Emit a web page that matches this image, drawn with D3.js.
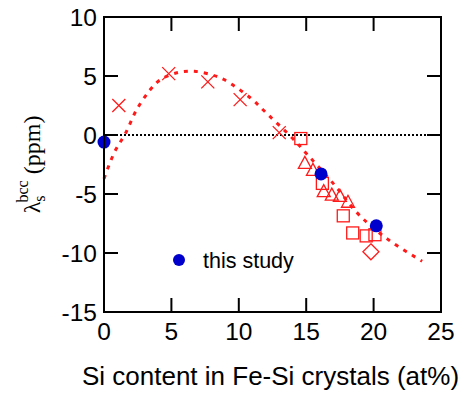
<!DOCTYPE html>
<html>
<head>
<meta charset="utf-8">
<script src="https://cdn.jsdelivr.net/npm/d3@7"></script>
<style>
  body { margin: 0; background: #fff; }
  svg { display: block; }
</style>
</head>
<body>
<div id="chart"></div>
<script>
// fitted curve
const fitCurve = [[0,-3.7],[0.8,-1.4],[1.6,0.15],[2.4,2.1],[3.4,3.8],[4.2,4.7],[5.5,5.3],[6.7,5.4],
  [8.0,5.1],[8.9,4.7],[10.8,3.2],[12.1,1.8],[14.0,-0.3],[15.2,-1.8],[17.0,-4.1],[18.7,-6.5],
  [20.0,-7.9],[21.5,-9.2],[23.6,-10.7]];
const crosses = [[1.1,2.5],[4.8,5.2],[7.7,4.5],[10.1,3.0],[13.0,0.2]];
const squares = [[14.6,-0.3],[16.2,-4.1],[17.75,-6.85],[18.45,-8.3],[19.45,-8.55],[20.1,-8.45]];
const triangles = [[14.9,-2.4],[15.5,-3.0],[16.3,-4.8],[16.9,-5.1],[17.5,-5.2],[18.1,-5.7]];
const diamonds = [[19.8,-9.9]];
const thisStudy = [[0,-0.6],[16.1,-3.3],[20.2,-7.7]];
const xTicks = [0,5,10,15,20,25];
const yTicks = [-15,-10,-5,0,5,10];

const W = 471, H = 395;
const m = {left: 104, right: 30, top: 17, bottom: 83};
const svg = d3.select("#chart").append("svg").attr("width", W).attr("height", H);
const x = d3.scaleLinear().domain([0,25]).range([m.left, W - m.right]);
const y = d3.scaleLinear().domain([-15,10]).range([H - m.bottom, m.top]);
const red = "#ff1a1a", blue = "#0000cc";
const font = "Liberation Sans, Arial, sans-serif";

// zero line
svg.append("line").attr("x1", x(0)).attr("x2", x(25)).attr("y1", y(0)).attr("y2", y(0))
  .attr("stroke", "#000").attr("stroke-width", 2).attr("stroke-dasharray", "2,2");

// dashed fit
const line = d3.line().x(d => x(d[0])).y(d => y(d[1])).curve(d3.curveCatmullRom);
svg.append("path").datum(fitCurve).attr("d", line).attr("fill", "none")
  .attr("stroke", red).attr("stroke-width", 3).attr("stroke-dasharray", "4,6");

// crosses
svg.selectAll(".cross").data(crosses).join("path").attr("class", "cross")
  .attr("transform", d => `translate(${x(d[0])},${y(d[1])})`)
  .attr("d", "M-6.5,-6.5L6.5,6.5M-6.5,6.5L6.5,-6.5")
  .attr("stroke", red).attr("stroke-width", 1.3).attr("fill", "none");

svg.selectAll(".sq").data(squares).join("rect").attr("class", "sq")
  .attr("x", d => x(d[0]) - 6).attr("y", d => y(d[1]) - 6).attr("width", 12).attr("height", 12)
  .attr("fill", "none").attr("stroke", red).attr("stroke-width", 1.3);

svg.selectAll(".tri").data(triangles).join("path").attr("class", "tri")
  .attr("transform", d => `translate(${x(d[0])},${y(d[1])})`)
  .attr("d", "M0,-7L6.5,5L-6.5,5Z")
  .attr("fill", "none").attr("stroke", red).attr("stroke-width", 1.3);

svg.selectAll(".dia").data(diamonds).join("path").attr("class", "dia")
  .attr("transform", d => `translate(${x(d[0])},${y(d[1])})`)
  .attr("d", "M0,-8L8,0L0,8L-8,0Z")
  .attr("fill", "none").attr("stroke", red).attr("stroke-width", 1.3);

svg.selectAll(".dot").data(thisStudy).join("circle").attr("class", "dot")
  .attr("cx", d => x(d[0])).attr("cy", d => y(d[1])).attr("r", 6.5).attr("fill", blue);

// frame + ticks
svg.append("rect").attr("x", x(0)).attr("y", y(10)).attr("width", x(25) - x(0)).attr("height", y(-15) - y(10))
  .attr("fill", "none").attr("stroke", "#000").attr("stroke-width", 2);

const tl = 14;
const inner = v => v > 0 && v < 25;
xTicks.filter(inner).forEach(t => {
  svg.append("line").attr("x1", x(t)).attr("x2", x(t)).attr("y1", y(-15)).attr("y2", y(-15) - tl).attr("stroke", "#000").attr("stroke-width", 2);
  svg.append("line").attr("x1", x(t)).attr("x2", x(t)).attr("y1", y(10)).attr("y2", y(10) + tl).attr("stroke", "#000").attr("stroke-width", 2);
});
yTicks.filter(t => t > -15 && t < 10).forEach(t => {
  svg.append("line").attr("x1", x(0)).attr("x2", x(0) + tl).attr("y1", y(t)).attr("y2", y(t)).attr("stroke", "#000").attr("stroke-width", 2);
  svg.append("line").attr("x1", x(25)).attr("x2", x(25) - tl).attr("y1", y(t)).attr("y2", y(t)).attr("stroke", "#000").attr("stroke-width", 2);
});

svg.selectAll(".xl").data(xTicks).join("text").attr("class", "xl")
  .attr("x", d => x(d)).attr("y", 340).attr("text-anchor", "middle")
  .attr("font-family", font).attr("font-size", 24.5).text(d => d);
svg.selectAll(".yl").data(yTicks).join("text").attr("class", "yl")
  .attr("x", 97).attr("y", d => y(d)).attr("dy", "0.36em").attr("text-anchor", "end")
  .attr("font-family", font).attr("font-size", 24.5).text(d => d);

svg.append("text").attr("x", (x(0) + x(25)) / 2 - 2).attr("y", 385).attr("text-anchor", "middle")
  .attr("font-family", font).attr("font-size", 26).text("Si content in Fe-Si crystals (at%)");

const yl = svg.append("text").attr("transform", `translate(40,${(y(10) + y(-15)) / 2}) rotate(-90)`)
  .attr("text-anchor", "middle").attr("font-family", "Liberation Serif, Times New Roman, serif").attr("font-size", 24);
yl.append("tspan").text("λ");
yl.append("tspan").attr("font-size", 16).attr("dy", 5).text("s");
yl.append("tspan").attr("font-size", 16).attr("dy", -17).attr("dx", -7).text("bcc");
yl.append("tspan").attr("dy", 12).text(" (ppm)");

// legend
svg.append("circle").attr("cx", 179).attr("cy", 260).attr("r", 6).attr("fill", blue);
svg.append("text").attr("x", 203).attr("y", 260).attr("dy", "0.35em")
  .attr("font-family", font).attr("font-size", 21.5).text("this study");
</script>
</body>
</html>
